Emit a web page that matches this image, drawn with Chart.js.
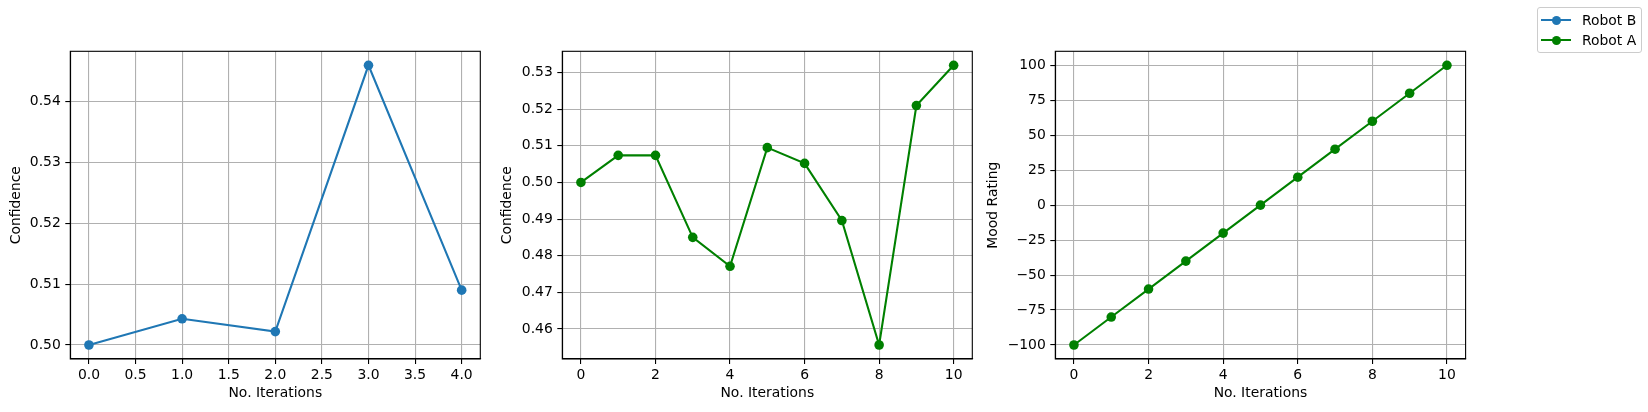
<!DOCTYPE html>
<html>
<head>
<meta charset="utf-8">
<script src="https://cdn.jsdelivr.net/npm/chart.js@4.4.1/dist/chart.umd.min.js"></script>
<style>
  html, body { margin: 0; padding: 0; background: #ffffff; }
  #wrap { position: relative; width: 1648px; height: 412px; overflow: hidden; background: #ffffff; }
  canvas.plot { position: absolute; left: 0; top: 0; }
  #legend {
    position: absolute; left: 1537px; top: 7px; width: 105px; height: 46px;
    box-sizing: border-box; border: 1px solid #cccccc; border-radius: 3px;
    background: rgba(255,255,255,0.8);
    font-family: 'DejaVu Sans', sans-serif; font-size: 13.9px; color: #000;
  }
  .lrow { position: absolute; left: 0; height: 20px; width: 100%; }
  .lline { position: absolute; left: 3px; width: 30px; height: 2px; top: 9px; }
  .ldot { position: absolute; left: 13.5px; width: 9px; height: 9px; border-radius: 50%; top: 5.5px; }
  .ltext { position: absolute; left: 44px; top: 1px; line-height: 18px; white-space: nowrap; }
</style>
</head>
<body>
<div id="wrap">
  <canvas id="c1" class="plot" width="1648" height="412"></canvas>
  <canvas id="c2" class="plot" width="1648" height="412"></canvas>
  <canvas id="c3" class="plot" width="1648" height="412"></canvas>
  <div id="legend"></div>
</div>
<script>
// ---------------- data ----------------
const seriesNames = ['Robot B', 'Robot A'];
const seriesColors = ['#1f77b4', '#008000'];

const robotBIterations = [0, 1, 2, 3, 4];
const robotBConfidence = [0.5000, 0.5043, 0.5022, 0.5459, 0.5090];

const robotAIterations = [0, 1, 2, 3, 4, 5, 6, 7, 8, 9, 10];
const robotAConfidence = [0.5000, 0.5074, 0.5074, 0.4850, 0.4771, 0.5095, 0.5052, 0.4896, 0.4556, 0.5210, 0.5320];
const robotAMood = [-100, -80, -60, -40, -20, 0, 20, 40, 60, 80, 100];

const xTicks1 = [0, 0.5, 1, 1.5, 2, 2.5, 3, 3.5, 4];
const xTickLabels1 = ['0.0', '0.5', '1.0', '1.5', '2.0', '2.5', '3.0', '3.5', '4.0'];
const yTicks1 = [0.50, 0.51, 0.52, 0.53, 0.54];
const yTickLabels1 = ['0.50', '0.51', '0.52', '0.53', '0.54'];

const xTicks2 = [0, 2, 4, 6, 8, 10];
const xTickLabels2 = ['0', '2', '4', '6', '8', '10'];
const yTicks2 = [0.46, 0.47, 0.48, 0.49, 0.50, 0.51, 0.52, 0.53];
const yTickLabels2 = ['0.46', '0.47', '0.48', '0.49', '0.50', '0.51', '0.52', '0.53'];

const xTicks3 = [0, 2, 4, 6, 8, 10];
const xTickLabels3 = ['0', '2', '4', '6', '8', '10'];
const yTicks3 = [-100, -75, -50, -25, 0, 25, 50, 75, 100];
const yTickLabels3 = ['\u2212100', '\u221275', '\u221250', '\u221225', '0', '25', '50', '75', '100'];

const xTitle = 'No. Iterations';
const yTitles = ['Confidence', 'Confidence', 'Mood Rating'];

// ---------------- style / layout ----------------
const FONT = 13.9;
const LH = FONT * 1.2;
const W = 1648, H = 412;
const plotTop = 51.3, plotBottom = 359;
const xScaleH = 42.64;
const panels = [
  { left: 70.3,   right: 480.3,  yTitleX: 16.0 },
  { left: 562.3,  right: 972.3,  yTitleX: 507.7 },
  { left: 1055.3, right: 1465.6, yTitleX: 993.3 }
];

Chart.defaults.font.family = "'DejaVu Sans', sans-serif";
Chart.defaults.font.size = FONT;
Chart.defaults.color = '#000000';

function margins(xs, ys) {
  const xmin = Math.min(...xs), xmax = Math.max(...xs);
  const ymin = Math.min(...ys), ymax = Math.max(...ys);
  const dx = (xmax - xmin) * 0.05, dy = (ymax - ymin) * 0.05;
  return { xmin: xmin - dx, xmax: xmax + dx, ymin: ymin - dy, ymax: ymax + dy };
}

const frame = {
  id: 'frame',
  afterDraw(chart) {
    const a = chart.chartArea, ctx = chart.ctx;
    ctx.save();
    ctx.strokeStyle = '#000000';
    ctx.lineWidth = 1.1;
    ctx.strokeRect(a.left, a.top, a.right - a.left, a.bottom - a.top);
    ctx.restore();
  }
};

function makeChart(id, idx, xs, ys, color, xt, xtl, yt, ytl) {
  const p = panels[idx];
  const m = margins(xs, ys);
  const yW = (p.left - p.yTitleX) + LH / 2;
  const pts = xs.map((x, i) => ({ x: x, y: ys[i] }));
  return new Chart(document.getElementById(id), {
    type: 'scatter',
    data: {
      datasets: [{
        label: idx === 0 ? seriesNames[0] : seriesNames[1],
        data: pts,
        showLine: true,
        borderColor: color,
        backgroundColor: color,
        borderWidth: 2.08,
        pointRadius: 4.8,
        pointHoverRadius: 4.8,
        pointBorderWidth: 0,
        pointBackgroundColor: color,
        tension: 0
      }]
    },
    options: {
      responsive: false,
      animation: false,
      events: [],
      layout: {
        padding: {
          left: p.left - yW,
          right: W - p.right,
          top: plotTop,
          bottom: H - plotBottom - xScaleH
        }
      },
      plugins: { legend: { display: false }, tooltip: { enabled: false }, title: { display: false } },
      scales: {
        x: {
          type: 'linear',
          min: m.xmin, max: m.xmax,
          afterBuildTicks: (s) => { s.ticks = xt.map(v => ({ value: v })); },
          afterFit: (s) => { s.height = xScaleH; },
          ticks: {
            autoSkip: false, maxRotation: 0, minRotation: 0, padding: 2.6,
            color: '#000000', font: { size: FONT },
            callback: (v) => { const i = xt.findIndex(t => Math.abs(t - v) < 1e-9); return i >= 0 ? xtl[i] : ''; }
          },
          grid: { color: '#b0b0b0', lineWidth: 1.1, drawTicks: true, tickLength: 5, tickColor: '#000000', tickWidth: 1.1 },
          border: { display: true, color: '#000000', width: 1.1 },
          title: { display: true, text: xTitle, color: '#000000', font: { size: FONT }, padding: 0 }
        },
        y: {
          type: 'linear',
          min: m.ymin, max: m.ymax,
          afterBuildTicks: (s) => { s.ticks = yt.map(v => ({ value: v })); },
          afterFit: (s) => { s.width = yW; },
          ticks: {
            autoSkip: false, padding: 4.5,
            color: '#000000', font: { size: FONT },
            callback: (v) => { const i = yt.findIndex(t => Math.abs(t - v) < 1e-9); return i >= 0 ? ytl[i] : ''; }
          },
          grid: { color: '#b0b0b0', lineWidth: 1.1, drawTicks: true, tickLength: 5, tickColor: '#000000', tickWidth: 1.1 },
          border: { display: true, color: '#000000', width: 1.1 },
          title: { display: true, text: yTitles[idx], color: '#000000', font: { size: FONT }, padding: 0 }
        }
      }
    },
    plugins: [frame]
  });
}

makeChart('c1', 0, robotBIterations, robotBConfidence, seriesColors[0], xTicks1, xTickLabels1, yTicks1, yTickLabels1);
makeChart('c2', 1, robotAIterations, robotAConfidence, seriesColors[1], xTicks2, xTickLabels2, yTicks2, yTickLabels2);
makeChart('c3', 2, robotAIterations, robotAMood, seriesColors[1], xTicks3, xTickLabels3, yTicks3, yTickLabels3);

// ---------------- legend ----------------
const legend = document.getElementById('legend');
seriesNames.forEach((name, i) => {
  const row = document.createElement('div');
  row.className = 'lrow';
  row.style.top = (2 + i * 20) + 'px';
  const line = document.createElement('div');
  line.className = 'lline'; line.style.background = seriesColors[i];
  const dot = document.createElement('div');
  dot.className = 'ldot'; dot.style.background = seriesColors[i];
  const txt = document.createElement('span');
  txt.className = 'ltext'; txt.textContent = name;
  row.appendChild(line); row.appendChild(dot); row.appendChild(txt);
  legend.appendChild(row);
});
</script>
</body>
</html>
